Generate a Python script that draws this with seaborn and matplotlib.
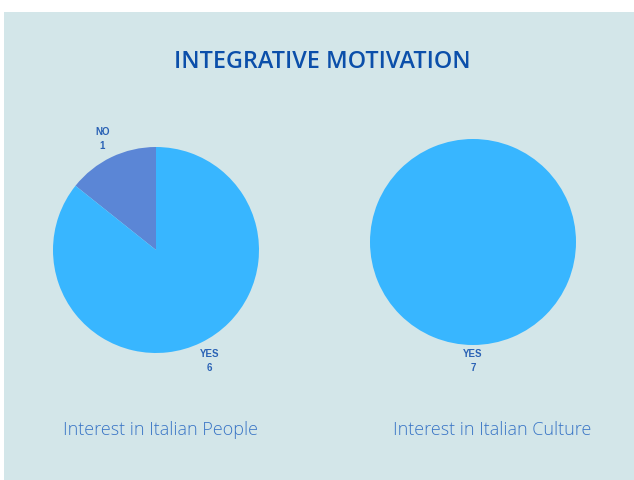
import matplotlib
matplotlib.use("Agg")
import matplotlib.pyplot as plt
import seaborn as sns
from matplotlib.patches import Rectangle

sns.set_theme(style="white")
plt.rcParams["font.family"] = ["Open Sans", "DejaVu Sans"]

# Data
title = "INTEGRATIVE MOTIVATION"
people_labels = ["NO", "YES"]
people_values = [1, 6]
culture_labels = ["YES"]
culture_values = [7]
subtitles = ["Interest in Italian People", "Interest in Italian Culture"]

W, H = 634, 480
fig = plt.figure(figsize=(W / 100, H / 100), dpi=100)
fig.patch.set_facecolor("white")

bg = "#d3e6e9"
fig.patches.append(Rectangle((4 / W, 0), 1 - 4 / W, 1 - 12 / H,
                             transform=fig.transFigure, facecolor=bg,
                             edgecolor="none", zorder=-10))

colors = {"YES": "#38b6ff", "NO": "#5b86d6"}
label_color = "#2a62b5"


def pie_axes(cx, cy, r):
    ax = fig.add_axes([(cx - r) / W, (H - cy - r) / H, 2 * r / W, 2 * r / H])
    ax.axis("off")
    return ax


def draw_pie(ax, labels, values, dist):
    texts = [f"{lab}\n{v}" for lab, v in zip(labels, values)]
    ax.pie(values, labels=texts, colors=[colors[l] for l in labels],
           startangle=90, counterclock=True, radius=1, labeldistance=dist,
           wedgeprops=dict(linewidth=0),
           textprops=dict(color=label_color, fontsize=7, fontweight="bold",
                          ha="center", va="center", linespacing=1.5,
                          family=["Liberation Sans", "DejaVu Sans"]))
    ax.set_xlim(-1, 1)
    ax.set_ylim(-1, 1)


ax1 = pie_axes(156, 250, 103)
draw_pie(ax1, people_labels, people_values, 1.2)
ax2 = pie_axes(473, 242, 103)
draw_pie(ax2, culture_labels, culture_values, 1.16)

fig.text(322 / W, 1 - 62 / H, title, ha="center", va="center",
         fontsize=16.8, color="#0b4faa", fontweight="semibold",
         family=["Open Sans", "DejaVu Sans"])

fig.text(161 / W, 1 - 430 / H, subtitles[0], ha="center", va="center",
         fontsize=13, color="#3a76c6", fontweight="light")
fig.text(492 / W, 1 - 430 / H, subtitles[1], ha="center", va="center",
         fontsize=13, color="#3a76c6", fontweight="light")

fig.savefig("out.png", dpi=100, facecolor=fig.get_facecolor())
